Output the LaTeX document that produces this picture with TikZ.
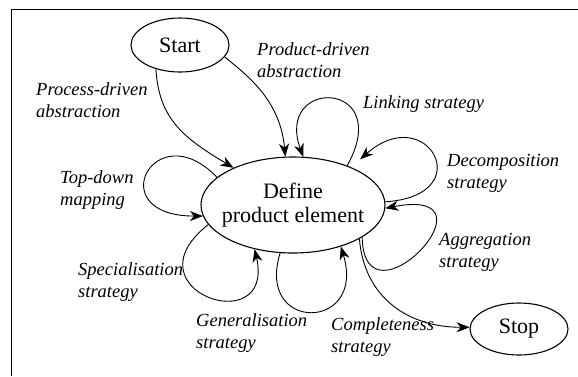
\documentclass[tikz,border=0pt]{standalone}
\usepackage{fontspec}
\setmainfont{Liberation Serif}
\usetikzlibrary{shapes.geometric,arrows.meta}
\begin{document}
\begin{tikzpicture}[x=1bp,y=-1bp,
  state/.style={ellipse, draw, line width=1.1bp, inner sep=0pt, align=center,
    font=\fontsize{22bp}{24bp}\selectfont},
  lbl/.style={anchor=base west, align=left, inner sep=0pt,
    font=\fontsize{18.5bp}{21.5bp}\selectfont\itshape},
  conn/.style={line width=0.9bp, -{Stealth[length=13bp,width=10bp,inset=4bp]}},
  frame/.style={line width=0.9bp}
]
\useasboundingbox (0,0) rectangle (578,376);
\draw[frame] (578,9.5) -- (11,9.5) -- (11,376);

\node[state, minimum width=98bp, minimum height=54bp] (start) at (180,45) {Start};
\node[state, minimum width=184bp, minimum height=96bp, inner xsep=-25bp] (def) at (293,205) {Define\\product element};
\node[state, minimum width=98bp, minimum height=52bp] (stop) at (519,329) {Stop};

\node[lbl] (lproc) at (36,117) {Process-driven\\abstraction};
\node[lbl] (lprod) at (257,77) {Product-driven\\abstraction};
\node[lbl] (llink) at (363,108) {Linking strategy};
\node[lbl] (ldec) at (447,188) {Decomposition\\strategy};
\node[lbl] (lagg) at (439,267) {Aggregation\\strategy};
\node[lbl] (ltop) at (60,205) {Top-down\\mapping};
\node[lbl] (lspec) at (78,297) {Specialisation\\strategy};
\node[lbl] (lgen) at (196,348) {Generalisation\\strategy};
\node[lbl] (lcomp) at (331,352) {Completeness\\strategy};

\draw[conn] (start.-135) .. controls +(3,50) and +(-50,-30) .. (def.148.3);
\draw[conn] (start.-15) .. controls +(25,20) and +(-5,-55) .. (def.99.5);
\draw[conn] (def.36) .. controls +(48,-86) and +(-29,-80) .. (def.78);
\draw[conn, shorten >=12bp] (def.2.5) .. controls +(95,-6) and +(76,-67) .. (def.33.9);
\draw[conn] (def.-25) .. controls +(2,97) and +(120,-23) .. (def.-2);
\draw[conn] (def.-27.6) .. controls +(5,60) and +(-60,0) .. (stop.178);
\draw[conn] (def.-105) .. controls +(-25,80) and +(26,85) .. (def.-41.9);
\draw[conn] (def.193) .. controls +(-84,66) and +(21,92) .. (def.-131.6);
\draw[conn] (def.160) .. controls +(-62,-65) and +(-103,0) .. (def.187);
\end{tikzpicture}
\end{document}
